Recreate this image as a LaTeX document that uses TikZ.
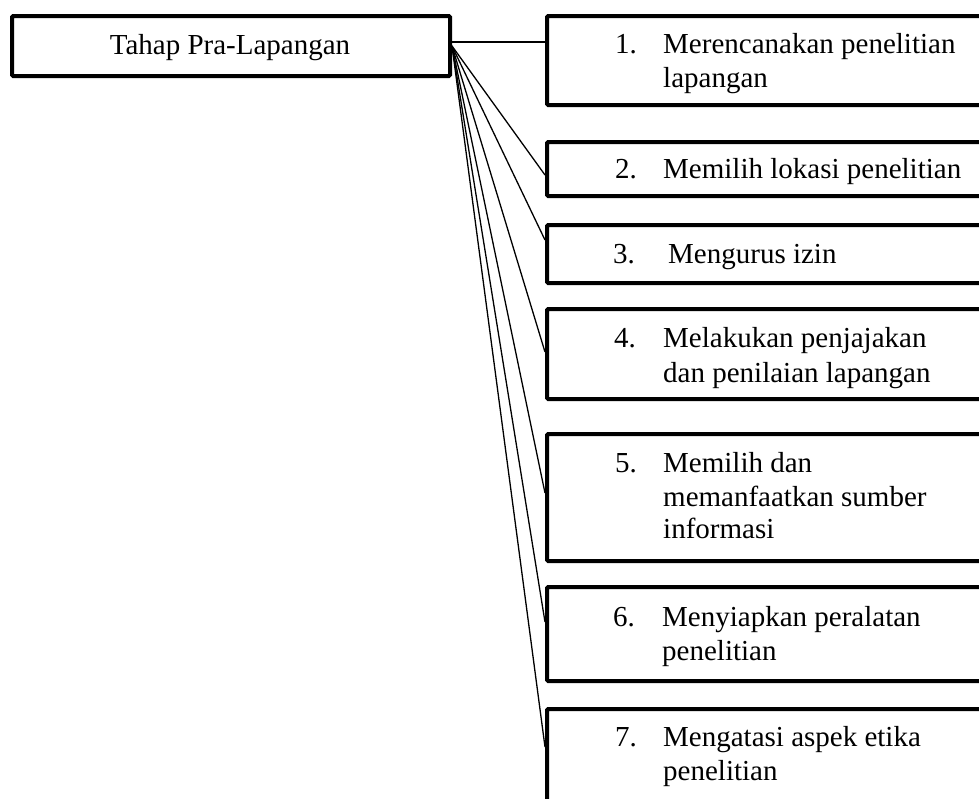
\documentclass[tikz,border=0pt]{standalone}
\usepackage{fontspec}
\setmainfont{Liberation Serif}
\begin{document}
\begin{tikzpicture}[x=1pt,y=-1pt,
  box/.style={draw=black,line width=4pt,rounded corners=1.2pt,fill=white,inner sep=0pt},
  conn/.style={draw=black,line width=1.3pt},
  txt/.style={anchor=base west,inner sep=0pt,font=\fontsize{29}{34}\selectfont},
  ctxt/.style={anchor=base,inner sep=0pt,font=\fontsize{29}{34}\selectfont}]
\useasboundingbox (0,0) rectangle (979,798);
% boxes
\node[box,minimum width=438pt,minimum height=60pt] (main) at (231,46) {};
\node[box,minimum width=553pt,minimum height=89pt]  (b1) at (823.5,60.5) {};
\node[box,minimum width=553pt,minimum height=54pt]  (b2) at (823.5,169) {};
\node[box,minimum width=553pt,minimum height=58pt]  (b3) at (823.5,254) {};
\node[box,minimum width=553pt,minimum height=90pt]  (b4) at (823.5,354) {};
\node[box,minimum width=553pt,minimum height=127pt] (b5) at (823.5,497.5) {};
\node[box,minimum width=553pt,minimum height=94pt]  (b6) at (823.5,634) {};
\node[box,minimum width=553pt,minimum height=139pt] (b7) at (823.5,778.5) {};
% connectors
\draw[conn] ([yshift=4pt]main.east) -- ([yshift=18.5pt]b1.west);
\draw[conn] (main.east) -- ([yshift=-6pt]b2.west);
\draw[conn] (main.east) -- ([yshift=14pt]b3.west);
\draw[conn] (main.east) -- ([yshift=2pt]b4.west);
\draw[conn] (main.east) -- ([yshift=4.5pt]b5.west);
\draw[conn] (main.east) -- ([yshift=12pt]b6.west);
\draw[conn] (main.east) -- ([yshift=31.5pt]b7.west);
% texts
\node[ctxt] (tm) at (230,54) {Tahap Pra-Lapangan};
\node[txt] (n1) at (615,53) {1.};
\node[txt] (t1a) at (663,53) {Merencanakan penelitian};
\node[txt] (t1b) at (663,87) {lapangan};
\node[txt] (n2) at (615,178) {2.};
\node[txt] (t2a) at (663,178) {Memilih lokasi penelitian};
\node[txt] (n3) at (613,263) {3.};
\node[txt] (t3a) at (668,263) {Mengurus izin};
\node[txt] (n4) at (614,347) {4.};
\node[txt] (t4a) at (663,347) {Melakukan penjajakan};
\node[txt] (t4b) at (663,382) {dan penilaian lapangan};
\node[txt] (n5) at (615,472) {5.};
\node[txt] (t5a) at (663,472) {Memilih dan};
\node[txt] (t5b) at (663,506) {memanfaatkan sumber};
\node[txt] (t5c) at (663,538) {informasi};
\node[txt] (n6) at (613,626) {6.};
\node[txt] (t6a) at (662,626) {Menyiapkan peralatan};
\node[txt] (t6b) at (662,660) {penelitian};
\node[txt] (n7) at (615,746) {7.};
\node[txt] (t7a) at (663,746) {Mengatasi aspek etika};
\node[txt] (t7b) at (663,780) {penelitian};
\end{tikzpicture}
\end{document}
